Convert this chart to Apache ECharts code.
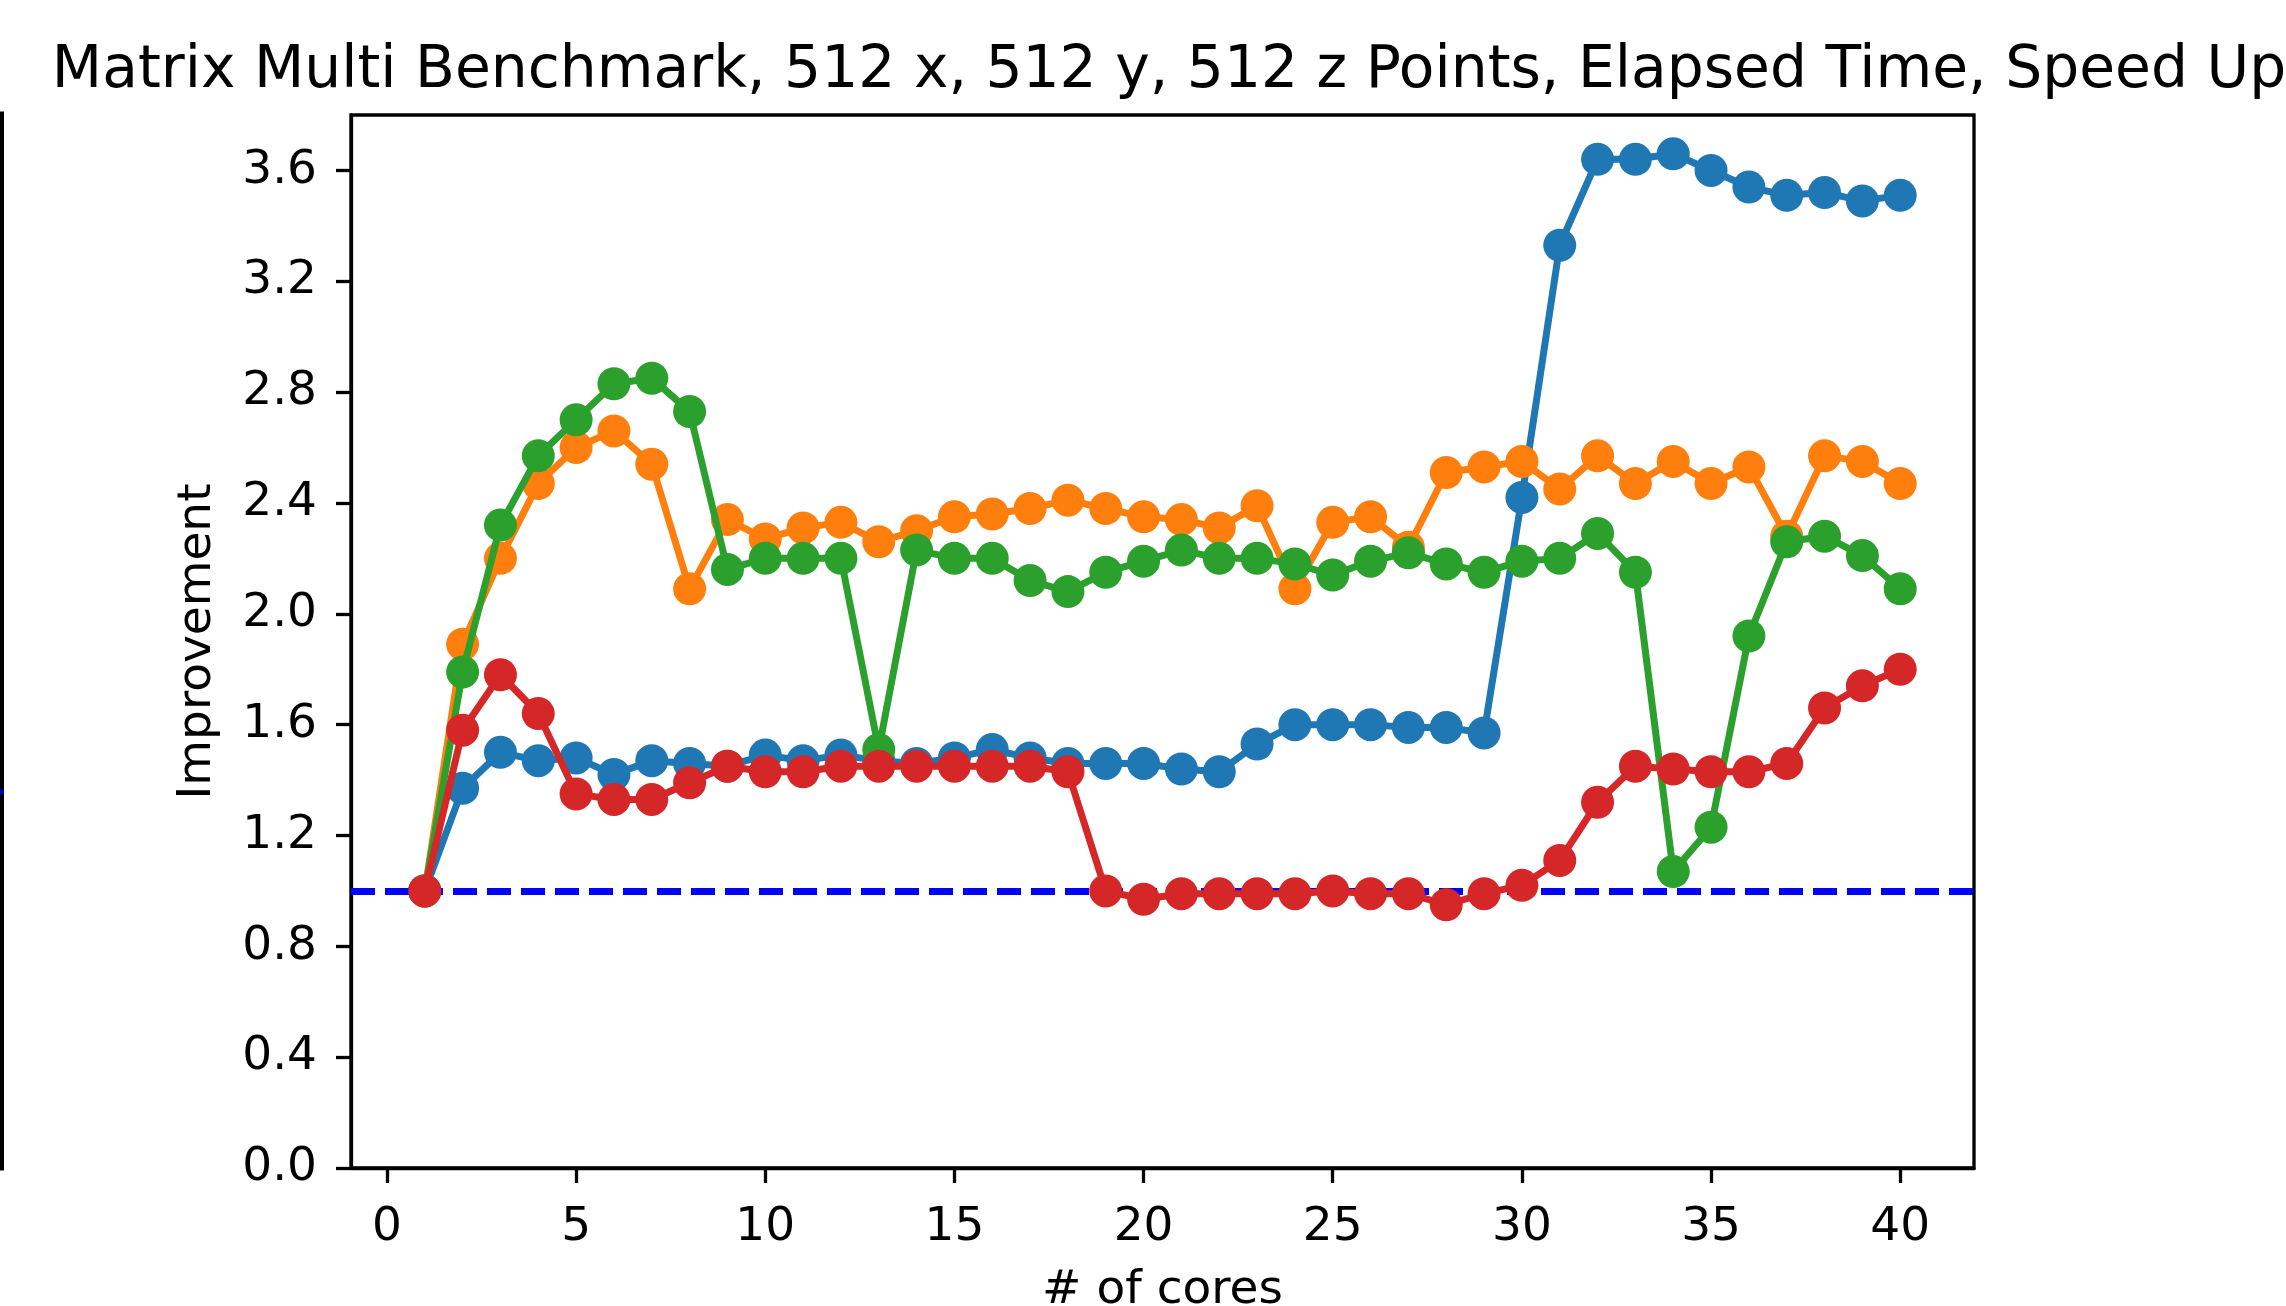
<!DOCTYPE html>
<html>
<head>
<meta charset="utf-8">
<title>Matrix Multi Benchmark</title>
<script src="https://cdn.jsdelivr.net/npm/echarts@6/dist/echarts.min.js"></script>
<style>
  html, body { margin: 0; padding: 0; background: #fff; }
  #chart { width: 2286px; height: 1306px; }
</style>
</head>
<body>
<div id="chart"></div>
<script>
// Speed-up versus number of cores, four runs plus the 1.0 baseline
const cores = [1, 2, 3, 4, 5, 6, 7, 8, 9, 10, 11, 12, 13, 14, 15, 16, 17, 18, 19, 20,
               21, 22, 23, 24, 25, 26, 27, 28, 29, 30, 31, 32, 33, 34, 35, 36, 37, 38, 39, 40];

const runBlue = [1.00, 1.37, 1.50, 1.47, 1.48, 1.42, 1.47, 1.46, 1.45, 1.49,
                 1.47, 1.49, 1.47, 1.46, 1.48, 1.51, 1.48, 1.46, 1.46, 1.46,
                 1.44, 1.43, 1.53, 1.60, 1.60, 1.60, 1.59, 1.59, 1.57, 2.42,
                 3.33, 3.64, 3.64, 3.66, 3.60, 3.54, 3.51, 3.52, 3.49, 3.51];

const runOrange = [1.00, 1.89, 2.20, 2.47, 2.60, 2.66, 2.54, 2.09, 2.34, 2.27,
                   2.31, 2.33, 2.26, 2.30, 2.35, 2.36, 2.38, 2.41, 2.38, 2.35,
                   2.34, 2.31, 2.39, 2.09, 2.33, 2.35, 2.24, 2.51, 2.53, 2.55,
                   2.45, 2.57, 2.47, 2.55, 2.47, 2.53, 2.28, 2.57, 2.55, 2.47];

const runGreen = [1.00, 1.79, 2.32, 2.57, 2.70, 2.83, 2.85, 2.73, 2.16, 2.20,
                  2.20, 2.20, 1.51, 2.23, 2.20, 2.20, 2.12, 2.08, 2.15, 2.19,
                  2.23, 2.20, 2.20, 2.18, 2.14, 2.19, 2.22, 2.18, 2.15, 2.19,
                  2.20, 2.29, 2.15, 1.07, 1.23, 1.92, 2.26, 2.28, 2.21, 2.09];

const runRed = [1.00, 1.58, 1.78, 1.64, 1.35, 1.33, 1.33, 1.39, 1.45, 1.43,
                1.43, 1.45, 1.45, 1.45, 1.45, 1.45, 1.45, 1.43, 1.00, 0.97,
                0.99, 0.99, 0.99, 0.99, 1.00, 0.99, 0.99, 0.95, 0.99, 1.02,
                1.11, 1.32, 1.45, 1.44, 1.43, 1.43, 1.46, 1.66, 1.74, 1.80];

const baselineValue = 1.0;

const xTicks = [0, 5, 10, 15, 20, 25, 30, 35, 40];
const yTicks = [0.0, 0.4, 0.8, 1.2, 1.6, 2.0, 2.4, 2.8, 3.2, 3.6];

const titleText = 'Matrix Multi Benchmark, 512 x, 512 y, 512 z Points, Elapsed Time, Speed Up';
const xName = '# of cores';
const yName = 'Improvement';

const palette = ['#1f77b4', '#ff7f0e', '#2ca02c', '#d62728'];
const runs = [runBlue, runOrange, runGreen, runRed];

const FONT = 'DejaVu Sans';

function pairs(values) {
  return cores.map((c, i) => [c, values[i]]);
}

const lineSeries = runs.map((vals, i) => ({
  type: 'line',
  data: pairs(vals),
  z: 2 + i,
  symbol: 'circle',
  symbolSize: 33,
  showAllSymbol: true,
  lineStyle: { color: palette[i], width: 7 },
  itemStyle: { color: palette[i], borderWidth: 0 },
  emphasis: { disabled: true },
  silent: true,
  animation: false
}));

// dashed reference line at 1.0, drawn over all runs
lineSeries.push({
  type: 'line',
  data: [],
  z: 10,
  silent: true,
  animation: false,
  markLine: {
    silent: true,
    symbol: ['none', 'none'],
    label: { show: false },
    lineStyle: { color: '#0000ff', width: 7, type: [24, 10] },
    emphasis: { disabled: true },
    data: [{ yAxis: baselineValue }],
    animation: false
  }
});

const chart = echarts.init(document.getElementById('chart'), null, { renderer: 'canvas' });

chart.setOption({
  backgroundColor: '#ffffff',
  animation: false,
  title: {
    text: titleText,
    left: 1164,
    textAlign: 'center',
    top: 38,
    textStyle: { fontFamily: FONT, fontSize: 58.3, fontWeight: 'normal', color: '#000' }
  },
  grid: {
    left: 351,
    top: 115,
    width: 1623,
    height: 1053,
    outerBoundsMode: 'none',
    containLabel: false,
    show: true,
    borderColor: '#000',
    borderWidth: 3.3,
    backgroundColor: 'transparent'
  },
  xAxis: {
    type: 'value',
    min: -0.95,
    max: 41.95,
    name: xName,
    nameLocation: 'middle',
    nameGap: 99,
    nameTextStyle: { fontFamily: FONT, fontSize: 47, color: '#000' },
    splitLine: { show: false },
    axisLine: { show: true, onZero: false, lineStyle: { color: '#000', width: 3.3 } },
    axisTick: {
      show: true, inside: false, length: 15,
      lineStyle: { color: '#000', width: 3.3 },
      customValues: xTicks
    },
    axisLabel: {
      show: true, margin: 36,
      fontFamily: FONT, fontSize: 47, color: '#000',
      customValues: xTicks,
      formatter: v => String(v)
    }
  },
  yAxis: {
    type: 'value',
    min: 0,
    max: 3.8,
    name: yName,
    nameLocation: 'middle',
    nameGap: 130,
    nameTextStyle: { fontFamily: FONT, fontSize: 47, color: '#000' },
    splitLine: { show: false },
    axisLine: { show: true, onZero: false, lineStyle: { color: '#000', width: 3.3 } },
    axisTick: {
      show: true, inside: false, length: 15,
      lineStyle: { color: '#000', width: 3.3 },
      customValues: yTicks
    },
    axisLabel: {
      show: true, margin: 34,
      fontFamily: FONT, fontSize: 47, color: '#000',
      customValues: yTicks,
      formatter: v => v.toFixed(1)
    }
  },
  graphic: [
    // edge of the neighbouring panel at the far left
    { type: 'line', silent: true, shape: { x1: 2, y1: 113, x2: 2, y2: 1170 },
      style: { stroke: '#000', lineWidth: 4 } },
    { type: 'line', silent: true, shape: { x1: 0, y1: 113, x2: 4, y2: 113 },
      style: { stroke: '#000', lineWidth: 3 } },
    { type: 'line', silent: true, shape: { x1: 0, y1: 1169, x2: 4, y2: 1169 },
      style: { stroke: '#000', lineWidth: 3 } },
    { type: 'line', silent: true, shape: { x1: 0, y1: 792, x2: 4, y2: 792 },
      style: { stroke: '#0000cc', lineWidth: 5 } }
  ],
  series: lineSeries
});
</script>
</body>
</html>
